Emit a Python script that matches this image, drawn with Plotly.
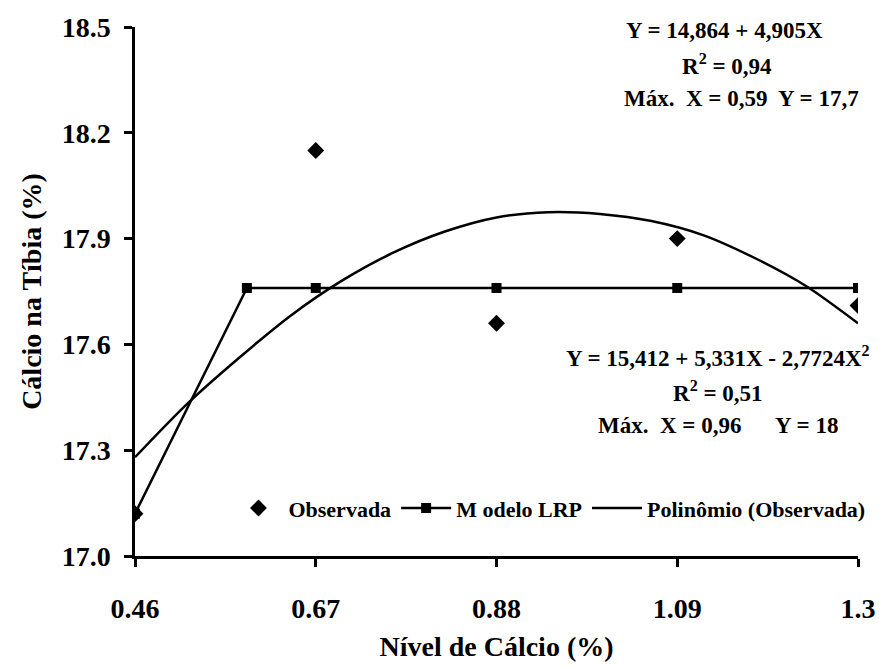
import plotly.graph_objects as go

# Observed data
obs_x = [0.46, 0.67, 0.88, 1.09, 1.30]
obs_y = [17.12, 18.15, 17.66, 17.90, 17.71]

# LRP model
lrp_x = [0.46, 0.59, 0.67, 0.88, 1.09, 1.30]
lrp_y = [17.12, 17.76, 17.76, 17.76, 17.76, 17.76]

# Polynomial trend
poly_x = [0.46, 0.52, 0.58, 0.64, 0.70, 0.76, 0.82, 0.88, 0.94, 1.00, 1.06, 1.12, 1.18, 1.24, 1.30]
poly_y = [17.28, 17.43, 17.56, 17.68, 17.78, 17.86, 17.92, 17.96, 17.975, 17.97, 17.95, 17.91, 17.845, 17.765, 17.66]

x_ticks = [0.46, 0.67, 0.88, 1.09, 1.30]
x_tick_labels = ["0.46", "0.67", "0.88", "1.09", "1.3"]
y_ticks = [17.0, 17.3, 17.6, 17.9, 18.2, 18.5]
y_tick_labels = ["17.0", "17.3", "17.6", "17.9", "18.2", "18.5"]

FONT = "Liberation Serif"

fig = go.Figure()
fig.add_trace(go.Scatter(x=obs_x, y=obs_y, mode="markers", name="<b>Observada</b>",
                         marker=dict(symbol="diamond", size=13, color="black")))
fig.add_trace(go.Scatter(x=lrp_x, y=lrp_y, mode="lines+markers", name="<b>M odelo LRP</b>",
                         line=dict(color="black", width=2.5),
                         marker=dict(symbol="square", size=10, color="black")))
fig.add_trace(go.Scatter(x=poly_x, y=poly_y, mode="lines", name="<b>Polinômio (Observada)</b>",
                         line=dict(color="black", width=2.5, shape="spline", smoothing=0.8)))

L, R, T, B = 135, 18, 25, 114
W, H = 888, 670
pw, ph = W - L - R, H - T - B

def px(xp):
    return (xp - L) / pw

def py(yp):
    return (H - B - yp) / ph

annots = [
    ("Y = 14,864 + 4,905X", 734, 29),
    ("R<sup>2</sup> = 0,94", 737, 63),
    ("Máx.  X = 0,59  Y = 17,7", 752, 97),
    ("Y = 15,412 + 5,331X - 2,7724X<sup>2</sup>", 728, 356),
    ("R<sup>2</sup> = 0,51", 728, 391),
    ("Máx.  X = 0,96      Y = 18", 728, 425),
]
for txt, xx, yy in annots:
    fig.add_annotation(x=px(xx), y=py(yy), xref="paper", yref="paper", text="<b>" + txt + "</b>",
                       showarrow=False, xanchor="center", yanchor="middle",
                       font=dict(family=FONT, size=23, color="black"))

fig.update_layout(
    width=W, height=H,
    margin=dict(l=L, r=R, t=T, b=B),
    paper_bgcolor="white", plot_bgcolor="white",
    font=dict(family=FONT, color="black"),
    showlegend=True,
    legend=dict(orientation="h", x=px(230), y=py(508), xanchor="left", yanchor="middle",
                font=dict(family=FONT, size=22, color="black"),
                bgcolor="rgba(0,0,0,0)", itemwidth=50),
    xaxis=dict(range=[0.46, 1.30], tickvals=x_ticks, ticktext=["<b>%s</b>" % t for t in x_tick_labels],
               showgrid=False, zeroline=False, showline=True, linecolor="black", linewidth=2.5,
               ticks="outside", ticklen=8, tickwidth=2.5, tickcolor="black",
               ticklabelstandoff=18,
               tickfont=dict(family=FONT, size=28, color="black"),
               title=dict(text="<b>Nível de Cálcio (%)</b>", font=dict(family=FONT, size=28, color="black"),
                          standoff=14)),
    yaxis=dict(range=[17.0, 18.5], tickvals=y_ticks, ticktext=["<b>%s</b>" % t for t in y_tick_labels],
               showgrid=False, zeroline=False, showline=True, linecolor="black", linewidth=2.5,
               ticks="outside", ticklen=8, tickwidth=2.5, tickcolor="black",
               ticklabelstandoff=8,
               tickfont=dict(family=FONT, size=28, color="black"),
               title=dict(text="<b>Cálcio na Tíbia (%)</b>", font=dict(family=FONT, size=28, color="black"),
                          standoff=12)),
)

fig.write_html("out.html")
